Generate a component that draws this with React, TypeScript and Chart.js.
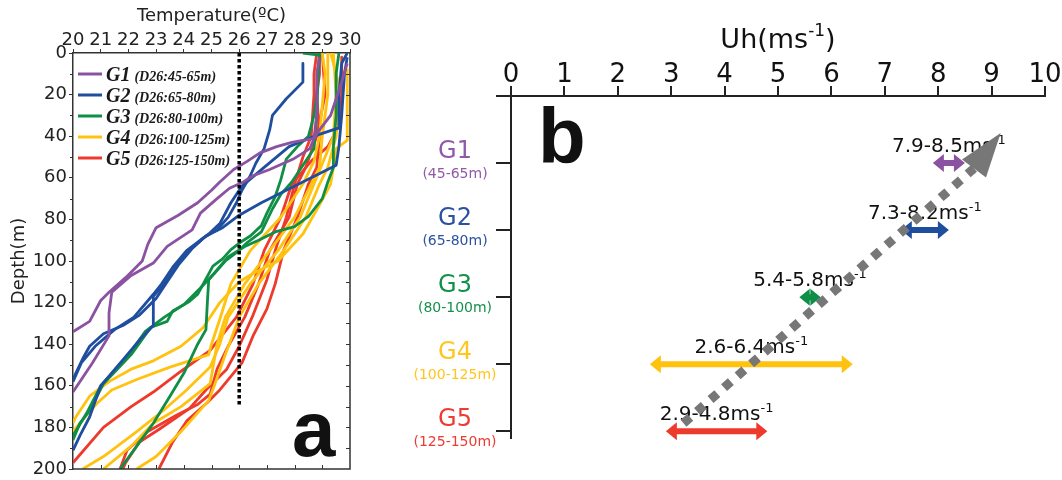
import React, { useEffect, useRef } from 'react';
import { Chart, registerables } from 'chart.js';

Chart.register(...registerables);

type Pt = [number, number]; // [temperature °C, depth m]

// ---------------- Panel a : temperature profiles ----------------
const TEMP_RANGE = [20, 30];
const DEPTH_RANGE = [0, 200];
const D26_LINE: Pt[] = [[26, 0], [26, 170]];

const G1_A: Pt[] = [[29.9,5],[29.7,14],[29.5,22],[29.3,30],[28.9,37],[28.7,41],[27.9,43],[27.35,45],[26.75,48],[26.3,52],[25.8,56],[25.3,62],[25.0,66],[24.5,72],[23.8,78],[23.0,84],[22.7,92],[22.5,100],[21.9,108],[21.3,115],[21.0,119],[20.6,129],[20.0,134]];
const G1_B: Pt[] = [[28.9,2],[28.8,10],[28.8,20],[28.8,30],[28.7,41],[28.55,46],[27.95,51],[27.1,56],[26.5,59],[26.15,62],[25.65,65],[25.2,70],[24.6,77],[24.3,85],[23.4,93],[22.9,101],[22.1,107],[21.4,115],[21.3,125],[21.3,136],[20.7,149],[20.0,163]];

const G2_A: Pt[] = [[28.3,5],[28.3,14],[27.7,22],[27.2,30],[27.1,37],[26.9,46],[26.6,53],[26.4,59],[26.1,66],[25.9,72],[25.6,79],[25.2,85],[24.7,89],[24.2,95],[23.7,103],[23.3,111],[22.9,117],[22.9,131],[22.4,138],[21.9,146],[21.0,160],[20.6,175],[20.25,184],[20.0,191]];
const G2_B: Pt[] = [[29.9,0],[29.7,5],[29.6,20],[29.6,36],[28.7,40],[27.8,45],[26.9,55],[26.1,64],[25.7,72],[25.3,82],[24.9,87],[24.1,95],[23.6,103],[23.2,111],[22.9,116],[22.2,127],[21.5,133],[20.8,141],[20.3,149],[20.0,158]];
const G2_C: Pt[] = [[29.9,2],[29.8,10],[29.7,30],[29.6,45],[29.5,54],[28.6,60],[27.7,66],[26.8,72],[26.0,78],[25.4,84],[24.8,88],[24.3,94],[23.8,102],[23.4,110],[23.0,118],[22.4,126],[21.8,131],[21.1,135],[20.6,141],[20.35,147],[20.1,154],[20.0,157]];

const G3_A: Pt[] = [[28.3,0],[28.9,1],[28.85,10],[28.8,20],[28.7,30],[28.5,40],[28.1,45],[27.7,51],[27.5,61],[27.3,69],[27.0,77],[26.8,83],[26.4,88],[26.1,90.5],[25.7,94.5],[25.4,99],[25.05,102.5],[24.5,116],[24.2,119.5],[23.6,124],[23.4,129],[22.8,132],[22.1,145],[21.1,159],[20.6,172],[20.25,178],[20.0,186]];
const G3_B: Pt[] = [[29.6,0],[29.5,10],[29.5,30],[29.4,45],[29.4,55],[29.2,62],[29.0,70],[28.5,78.6],[28.0,83.5],[27.3,86],[26.7,90],[26.2,93],[25.6,98],[24.9,109],[24.85,120],[24.8,133],[24.5,140],[24.0,154],[23.5,165],[22.9,178],[22.3,189],[21.7,200]];
const G3_C: Pt[] = [[28.9,0],[28.85,10],[28.8,30],[28.7,46],[28.45,51],[27.9,62],[27.5,68],[27.2,75],[26.8,86],[26.3,91],[25.9,96],[25.5,100],[25.1,106],[24.6,113],[24.0,121],[23.3,127],[22.6,134],[21.9,147],[21.0,160],[20.5,173],[20.0,184]];

const G4_A: Pt[] = [[29.9,8],[29.9,20],[29.9,42],[29.5,46],[29.4,55],[29.3,63],[28.9,73],[28.3,87],[27.4,100],[26.5,106],[26.0,110],[25.3,120],[24.7,132],[23.9,141],[22.9,148],[22.1,152],[21.3,158],[20.6,165],[20.1,175],[20.0,178]];
const G4_B: Pt[] = [[29.0,0],[29.1,10],[29.0,25],[28.9,40],[28.7,52],[28.3,63],[27.5,79],[26.4,95],[25.7,111],[25.3,128],[25.0,140],[24.9,145],[23.5,151],[22.3,157],[21.4,162],[20.9,168],[20.5,174],[20.25,178],[20.0,182]];
const G4_C: Pt[] = [[29.4,0],[29.5,20],[29.4,40],[29.1,50],[28.7,63],[28.2,79],[27.4,95],[26.4,111],[25.6,127],[25.3,140],[24.95,151],[24.1,162],[23.25,172],[22.3,182],[21.1,194],[20.35,200]];
const G4_D: Pt[] = [[29.2,0],[29.2,20],[29.0,40],[28.9,55],[28.6,63],[28.0,79],[27.1,95],[26.2,111],[25.5,127],[25.2,140],[24.95,159],[23.9,170],[22.9,178],[22.1,189],[21.1,200]];
const G4_E: Pt[] = [[29.3,0],[29.6,15],[29.5,40],[29.2,55],[28.9,63],[28.4,79],[27.6,95],[26.7,111],[26.0,127],[25.5,145],[25.1,160],[24.9,167],[23.9,182],[23.0,194],[22.3,200]];

const G5_A: Pt[] = [[28.9,0],[28.9,10],[28.8,20],[28.9,40],[28.8,55],[28.5,63],[28.1,79],[27.6,95],[27.3,111],[27.0,123],[26.5,136],[26.1,149],[25.3,162],[24.85,168],[24.1,177],[23.6,187],[23.1,200]];
const G5_B: Pt[] = [[28.8,0],[28.7,10],[28.7,20],[28.6,40],[28.3,50],[28.0,63],[27.7,79],[27.3,95],[27.0,109],[26.5,126],[26.0,141],[25.55,152],[24.8,162],[24.2,171],[23.1,181],[22.4,187],[21.9,197],[21.8,200]];
const G5_C: Pt[] = [[29.7,2],[29.7,20],[29.6,35],[29.2,45],[28.6,52],[27.9,63],[27.5,79],[26.9,95],[26.5,111],[25.9,127],[24.95,143],[23.9,153],[22.9,163],[22.1,170],[21.1,180],[20.0,197]];
const G5_D: Pt[] = [[29.0,0],[29.1,20],[28.8,40],[28.4,55],[28.1,63],[27.8,79],[27.1,95],[26.7,111],[26.2,127],[25.6,141],[25.2,152],[24.95,164],[24.5,169],[23.75,174],[22.7,182],[21.95,191],[21.7,200]];

const LEGEND_NAMES = ['G1', 'G2', 'G3', 'G4', 'G5'];
const LEGEND_DEPTHS = ['(D26:45-65m)', '(D26:65-80m)', '(D26:80-100m)', '(D26:100-125m)', '(D26:125-150m)'];

// ---------------- Panel b : Uh ranges ----------------
const GROUPS = ['G1', 'G2', 'G3', 'G4', 'G5'];
const GROUP_DEPTHS = ['(45-65m)', '(65-80m)', '(80-100m)', '(100-125m)', '(125-150m)'];
const GROUP_POS = [1, 2, 3, 4, 5];
const UH_MIN = [7.9, 7.3, 5.4, 2.6, 2.9];
const UH_MAX = [8.5, 8.2, 5.8, 6.4, 4.8];
const UH_TICKS = [0, 1, 2, 3, 4, 5, 6, 7, 8, 9, 10];
const TREND_X = [3.23, 8.67];
const TREND_Y = [4.88, 1.08];
const TREND_TIP = [9.17, 0.55];

const COLORS = ['#8B52A1', '#1F4E9F', '#0E8F45', '#FFC20F', '#EE3A2C'];
const LABEL_COLORS = ['#9159AA', '#2B52A0', '#13914A', '#FFC61E', '#EE3B33'];

const SANS = '"DejaVu Sans", sans-serif';
const SERIF = '"Liberation Serif", serif';
const BOLD = '"Liberation Sans", Arial, sans-serif';

function drawParts(ctx: CanvasRenderingContext2D, parts: { t: string; sup?: boolean }[], cx: number, cy: number, size: number, supSize: number, color: string) {
  ctx.save();
  ctx.fillStyle = color;
  ctx.textAlign = 'left';
  ctx.textBaseline = 'alphabetic';
  const widths = parts.map((p) => {
    ctx.font = `${p.sup ? supSize : size}px ${SANS}`;
    return ctx.measureText(p.t).width;
  });
  const total = widths.reduce((s, w) => s + w, 0);
  let x = cx - total / 2;
  const base = cy + size * 0.36;
  parts.forEach((p, i) => {
    ctx.font = `${p.sup ? supSize : size}px ${SANS}`;
    ctx.fillText(p.t, x, p.sup ? base - size * 0.42 : base);
    x += widths[i];
  });
  ctx.restore();
}

export default function App() {
  const refA = useRef<HTMLCanvasElement>(null);
  const refB = useRef<HTMLCanvasElement>(null);

  useEffect(() => {
    const groupsA: Pt[][][] = [[G1_A, G1_B], [G2_A, G2_B, G2_C], [G3_A, G3_B, G3_C], [G4_A, G4_B, G4_C, G4_D, G4_E], [G5_A, G5_B, G5_C, G5_D]];
    const profileSets: any[] = [];
    groupsA.forEach((profiles, gi) => {
      profiles.forEach((p) => {
        profileSets.push({
          data: p.map(([t, d]) => ({ x: t, y: d })),
          borderColor: COLORS[gi],
          borderWidth: 2.8,
          showLine: true,
          pointRadius: 0,
          fill: false,
          borderJoinStyle: 'round',
        });
      });
    });

    const pluginA = {
      id: 'panelA',
      afterDraw(chart: any) {
        const { ctx, chartArea, scales } = chart;
        const { left, right, top, bottom } = chartArea;
        const x = scales.x, y = scales.y;
        ctx.save();
        ctx.strokeStyle = '#333';
        ctx.lineWidth = 1.5;
        ctx.beginPath();
        ctx.moveTo(right, top);
        ctx.lineTo(right, bottom);
        ctx.lineTo(left, bottom);
        ctx.stroke();
        ctx.lineWidth = 1;
        ctx.beginPath();
        for (let d = 10; d < 200; d += 20) {
          const py = Math.round(y.getPixelForValue(d)) + 0.5;
          ctx.moveTo(left, py); ctx.lineTo(left - 3, py);
        }
        for (let d = 10; d < 200; d += 10) {
          const py = Math.round(y.getPixelForValue(d)) + 0.5;
          ctx.moveTo(right, py); ctx.lineTo(right - 4, py);
        }
        for (let t = 21; t < 30; t++) {
          const px = Math.round(x.getPixelForValue(t)) + 0.5;
          ctx.moveTo(px, bottom); ctx.lineTo(px, bottom - 4);
        }
        ctx.stroke();

        // legend
        LEGEND_NAMES.forEach((name, i) => {
          const ry = 74 + i * 21;
          ctx.strokeStyle = COLORS[i];
          ctx.lineWidth = 3;
          ctx.beginPath();
          ctx.moveTo(78, ry); ctx.lineTo(102, ry);
          ctx.stroke();
          ctx.fillStyle = '#1a1a1a';
          ctx.textAlign = 'left';
          ctx.textBaseline = 'alphabetic';
          ctx.font = `italic bold 20px ${SERIF}`;
          ctx.fillText(name, 106, ry + 7);
          const w = ctx.measureText(name).width;
          ctx.font = `italic bold 14px ${SERIF}`;
          ctx.fillText(LEGEND_DEPTHS[i], 106 + w + 4, ry + 7);
        });

        ctx.fillStyle = '#111';
        ctx.font = `bold 78px ${BOLD}`;
        ctx.textAlign = 'left';
        ctx.fillText('a', 292, 456);
        ctx.restore();
      },
    };

    const chartA = new Chart(refA.current as HTMLCanvasElement, {
      type: 'scatter',
      data: {
        datasets: [
          {
            data: D26_LINE.map(([t, d]) => ({ x: t, y: d })),
            borderColor: '#000',
            borderWidth: 3.5,
            borderDash: [3.5, 2.5],
            borderCapStyle: 'butt',
            showLine: true,
            pointRadius: 0,
          } as any,
          ...profileSets,
        ],
      },
      options: {
        animation: false,
        responsive: false,
        devicePixelRatio: 1,
        layout: { padding: { left: 0, top: 0, right: 30, bottom: 10 } },
        plugins: { legend: { display: false }, tooltip: { enabled: false } },
        scales: {
          x: {
            type: 'linear',
            position: 'top',
            min: TEMP_RANGE[0],
            max: TEMP_RANGE[1],
            ticks: { stepSize: 1, autoSkip: false, maxRotation: 0, font: { family: SANS, size: 18, lineHeight: 1 }, color: '#222', padding: 0 },
            grid: { display: true, drawOnChartArea: false, drawTicks: true, tickLength: 4, color: '#333', lineWidth: 1 },
            border: { display: true, color: '#333', width: 1.5 },
            title: { display: true, text: 'Temperature(ºC)', font: { family: SANS, size: 18 }, color: '#222', padding: { top: 6, bottom: 0 } },
            afterFit: (s: any) => { s.height = 53; },
          },
          y: {
            type: 'linear',
            reverse: true,
            min: DEPTH_RANGE[0],
            max: DEPTH_RANGE[1],
            ticks: { stepSize: 20, autoSkip: false, font: { family: SANS, size: 18, lineHeight: 1 }, color: '#222', padding: 2 },
            grid: { display: true, drawOnChartArea: false, drawTicks: true, tickLength: 4, color: '#333', lineWidth: 1 },
            border: { display: true, color: '#333', width: 1.5 },
            title: { display: true, text: 'Depth(m)', font: { family: SANS, size: 18 }, color: '#222', padding: { top: 9, bottom: 0 } },
            afterFit: (s: any) => { s.width = 73; },
          },
        },
      } as any,
      plugins: [pluginA],
    });

    // ---------- chart B ----------
    const HEAD_L = 11, HEAD_H = 9;
    const pluginB = {
      id: 'panelB',
      beforeDatasetsDraw(chart: any) {
        const { ctx, scales } = chart;
        GROUPS.forEach((_, i) => {
          const cx = scales.x.getPixelForValue((UH_MIN[i] + UH_MAX[i]) / 2);
          const cy = scales.y.getPixelForValue(GROUP_POS[i]) - 18;
          drawParts(ctx, [{ t: `${UH_MIN[i].toFixed(1)}-${UH_MAX[i].toFixed(1)}ms` }, { t: '-1', sup: true }], cx, cy, 20, 13, '#111');
        });
      },
      beforeDatasetDraw(chart: any, args: any) {
        if (args.index >= 1) {
          const i = args.index - 1;
          const { ctx, scales } = chart;
          const p1 = scales.x.getPixelForValue(UH_MIN[i]);
          const p2 = scales.x.getPixelForValue(UH_MAX[i]);
          ctx.save();
          ctx.beginPath();
          ctx.rect(p1 + 4, 0, p2 - p1 - 8, chart.height);
          ctx.clip();
        }
      },
      afterDatasetDraw(chart: any, args: any) {
        const { ctx, scales } = chart;
        if (args.index >= 1) {
          ctx.restore();
          const i = args.index - 1;
          const p1 = scales.x.getPixelForValue(UH_MIN[i]);
          const p2 = scales.x.getPixelForValue(UH_MAX[i]);
          const py = scales.y.getPixelForValue(GROUP_POS[i]);
          ctx.save();
          ctx.fillStyle = COLORS[i];
          ctx.beginPath();
          ctx.moveTo(p1, py); ctx.lineTo(p1 + HEAD_L, py - HEAD_H); ctx.lineTo(p1 + HEAD_L, py + HEAD_H); ctx.closePath();
          ctx.moveTo(p2, py); ctx.lineTo(p2 - HEAD_L, py - HEAD_H); ctx.lineTo(p2 - HEAD_L, py + HEAD_H); ctx.closePath();
          ctx.fill();
          ctx.restore();
        } else if (args.index === 0) {
          const tx = scales.x.getPixelForValue(TREND_TIP[0]);
          const ty = scales.y.getPixelForValue(TREND_TIP[1]);
          const bx = scales.x.getPixelForValue(TREND_X[1]);
          const by = scales.y.getPixelForValue(TREND_Y[1]);
          const len = Math.hypot(tx - bx, ty - by);
          const nx = -(ty - by) / len, ny = (tx - bx) / len;
          const hw = 15;
          ctx.save();
          ctx.fillStyle = '#777';
          ctx.beginPath();
          ctx.moveTo(tx, ty);
          ctx.lineTo(bx + nx * hw, by + ny * hw);
          ctx.lineTo(bx - nx * hw, by - ny * hw);
          ctx.closePath();
          ctx.fill();
          ctx.restore();
        }
      },
      afterDraw(chart: any) {
        const { ctx, scales, chartArea } = chart;
        GROUPS.forEach((g, i) => {
          const py = scales.y.getPixelForValue(GROUP_POS[i]);
          ctx.save();
          ctx.fillStyle = LABEL_COLORS[i];
          ctx.textAlign = 'center';
          ctx.textBaseline = 'middle';
          ctx.font = `24px ${SANS}`;
          ctx.fillText(g, 75, py - 11.5);
          ctx.font = `14px ${SANS}`;
          ctx.fillText(GROUP_DEPTHS[i], 75, py + 11);
          ctx.restore();
        });
        drawParts(ctx, [{ t: 'Uh(ms' }, { t: '-1', sup: true }, { t: ')' }], (chartArea.left + chartArea.right) / 2, 38, 27, 17, '#111');
        ctx.save();
        ctx.fillStyle = '#111';
        ctx.font = `bold 78px ${BOLD}`;
        ctx.textAlign = 'left';
        ctx.textBaseline = 'alphabetic';
        ctx.fillText('b', 158, 163);
        ctx.restore();
      },
    };

    const chartB = new Chart(refB.current as HTMLCanvasElement, {
      type: 'scatter',
      data: {
        datasets: [
          {
            data: TREND_X.map((v, i) => ({ x: v, y: TREND_Y[i] })),
            borderColor: '#777',
            borderWidth: 9,
            borderDash: [9, 9],
            borderCapStyle: 'butt',
            showLine: true,
            pointRadius: 0,
          } as any,
          ...GROUPS.map((_, i) => ({
            data: [{ x: UH_MIN[i], y: GROUP_POS[i] }, { x: UH_MAX[i], y: GROUP_POS[i] }],
            borderColor: COLORS[i],
            borderWidth: 6,
            borderCapStyle: 'butt',
            showLine: true,
            pointRadius: 0,
          })),
        ],
      },
      options: {
        animation: false,
        responsive: false,
        devicePixelRatio: 1,
        layout: { padding: { left: 0, top: 0, right: 17, bottom: 42 } },
        plugins: { legend: { display: false }, tooltip: { enabled: false } },
        scales: {
          x: {
            type: 'linear',
            position: 'top',
            min: UH_TICKS[0],
            max: UH_TICKS[UH_TICKS.length - 1],
            afterBuildTicks: (s: any) => { s.ticks = UH_TICKS.map((v) => ({ value: v })); },
            ticks: { autoSkip: false, maxRotation: 0, font: { family: SANS, size: 26, lineHeight: 1 }, color: '#111', padding: -2 },
            grid: { display: true, drawOnChartArea: false, drawTicks: true, tickLength: 10, color: '#222', lineWidth: 2 },
            border: { display: true, color: '#222', width: 2 },
            afterFit: (s: any) => { s.height = 96; },
          },
          y: {
            type: 'linear',
            reverse: true,
            min: 0,
            max: 5.1,
            afterBuildTicks: (s: any) => { s.ticks = [0, ...GROUP_POS].map((v) => ({ value: v })); },
            ticks: { display: false },
            grid: { display: true, drawOnChartArea: false, drawTicks: true, tickLength: 15, color: '#222', lineWidth: 2 },
            border: { display: true, color: '#222', width: 2 },
            afterFit: (s: any) => { s.width = 131; },
          },
        },
      } as any,
      plugins: [pluginB],
    });

    return () => {
      chartA.destroy();
      chartB.destroy();
    };
  }, []);

  return (
    <div style={{ position: 'fixed', left: 0, top: 0, width: 1062, height: 480, background: '#fff' }}>
      <canvas ref={refA} width={380} height={480} style={{ position: 'absolute', left: 0, top: 0, width: 380, height: 480 }} />
      <canvas ref={refB} width={682} height={480} style={{ position: 'absolute', left: 380, top: 0, width: 682, height: 480 }} />
    </div>
  );
}
